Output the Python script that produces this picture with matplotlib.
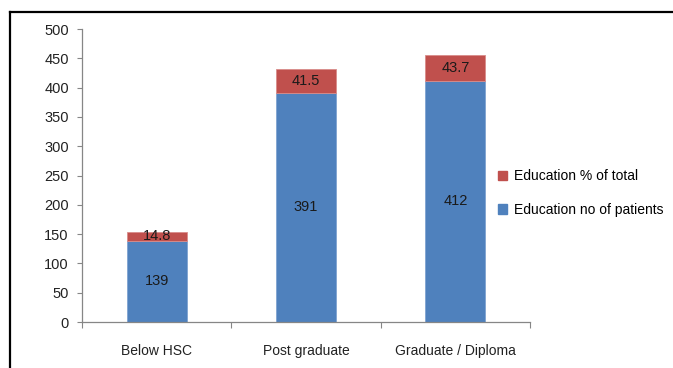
import matplotlib
matplotlib.use('Agg')
import matplotlib.pyplot as plt
from matplotlib.lines import Line2D
from matplotlib.patches import Patch
import numpy as np

plt.rcParams['font.family'] = ['Liberation Sans', 'DejaVu Sans']

categories = ["Below HSC", "Post graduate", "Graduate / Diploma"]
patients = [139, 391, 412]
percent_total = [14.8, 41.5, 43.7]

blue = "#4F81BD"
red = "#C0504D"
axis_grey = "#868686"

fig = plt.figure(figsize=(6.73, 3.68), dpi=100)
ax = fig.add_axes([0.1218, 0.125, 0.6657, 0.796])

x = np.arange(len(categories))
bars_blue = ax.bar(x, patients, width=0.4, color=blue, edgecolor="#7FA3D0", linewidth=0.6)
bars_red = ax.bar(x, percent_total, width=0.4, bottom=patients, color=red, edgecolor="#D98C8A", linewidth=0.6)

for i in range(len(categories)):
    ax.text(x[i], patients[i] / 2.0, "{:g}".format(patients[i]), ha="center", va="center",
            fontsize=10.5, color="#1a1a1a")
    ax.text(x[i], patients[i] + percent_total[i] / 2.0, "{:g}".format(percent_total[i]),
            ha="center", va="center", fontsize=10.5, color="#1a1a1a")

ax.set_xlim(-0.5, 2.5)
ax.set_ylim(0, 500)
ax.set_yticks(range(0, 501, 50))

# category boundaries get the tick marks, centres get the labels
ax.set_xticks([-0.5, 0.5, 1.5, 2.5])
ax.set_xticklabels([])
ax.set_xticks(x, minor=True)
ax.set_xticklabels(categories, minor=True)
ax.tick_params(axis="x", which="major", length=4, width=0.8, color=axis_grey, direction="out")
ax.tick_params(axis="x", which="minor", length=0, pad=16, labelsize=10, labelcolor="#222222")
ax.tick_params(axis="y", length=3.5, width=0.8, color=axis_grey, pad=6, labelsize=10.5,
               labelcolor="#222222")

for side in ["top", "right"]:
    ax.spines[side].set_visible(False)
for side in ["left", "bottom"]:
    ax.spines[side].set_color(axis_grey)
    ax.spines[side].set_linewidth(0.9)

handles = [Patch(facecolor=red, edgecolor=red), Patch(facecolor=blue, edgecolor=blue)]
labels = ["Education % of total", "Education no of patients"]
fig.legend(handles, labels, loc="center left", bbox_to_anchor=(0.721, 0.475), frameon=False,
           fontsize=10, handlelength=0.7, handleheight=0.7, handletextpad=0.5, labelspacing=1.4)

# frame around the figure (left and top edges)
fig.add_artist(Line2D([0.0145, 0.0145], [0.0, 0.967], color="black", linewidth=1.6,
                      transform=fig.transFigure))
fig.add_artist(Line2D([0.0145, 1.0], [0.967, 0.967], color="black", linewidth=1.6,
                      transform=fig.transFigure))

fig.savefig("out.png", dpi=100)
